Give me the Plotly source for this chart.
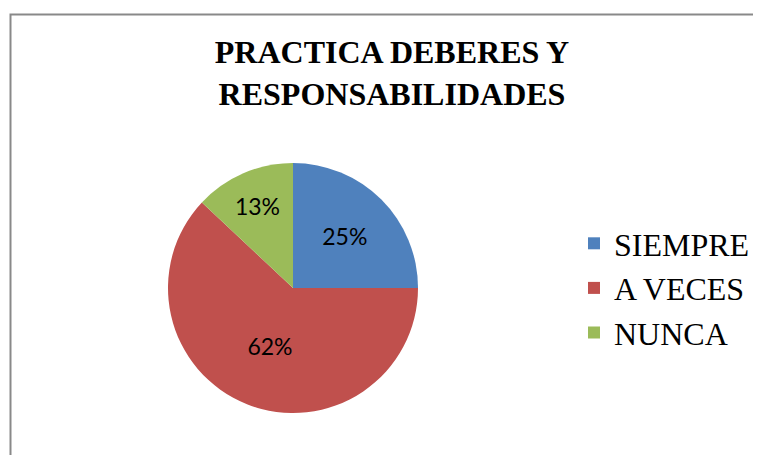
import plotly.graph_objects as go

categories = ["SIEMPRE", "A VECES", "NUNCA"]
values = [25, 62, 13]
colors = ["#4F81BD", "#C0504D", "#9BBB59"]
title_text = "PRACTICA DEBERES Y<br>RESPONSABILIDADES"

W, H = 761, 455
OFF = 8  # page body margin in the browser


def px_x(x):
    return (x - OFF) / W


def px_y(y):
    return 1 - (y - OFF) / H


fig = go.Figure(
    go.Pie(
        labels=categories,
        values=values,
        sort=False,
        direction="clockwise",
        rotation=0,
        marker=dict(colors=colors, line=dict(width=0)),
        textinfo="percent",
        texttemplate="%{percent:.0%}",
        textposition="inside",
        insidetextorientation="horizontal",
        textfont=dict(family="Lato", size=23, color="black"),
        domain=dict(x=[px_x(168), px_x(418)], y=[px_y(413), px_y(163)]),
        hoverinfo="label+percent",
    )
)

fig.update_layout(
    width=W,
    height=H,
    margin=dict(l=0, r=0, t=0, b=0),
    paper_bgcolor="white",
    plot_bgcolor="white",
    title=dict(
        text="<b>" + title_text + "</b>",
        x=px_x(392),
        xanchor="center",
        y=px_y(63),
        yanchor="top",
        yref="paper",
        font=dict(family="Liberation Serif", size=32, color="black"),
    ),
    legend=dict(
        x=px_x(574),
        xanchor="left",
        y=px_y(288),
        yanchor="middle",
        font=dict(family="Liberation Serif", size=32, color="black"),
        bgcolor="rgba(0,0,0,0)",
    ),
    shapes=[
        dict(
            type="rect",
            xref="paper",
            yref="paper",
            x0=px_x(10.5),
            x1=1.05,
            y0=-0.05,
            y1=px_y(14.5),
            line=dict(color="#898989", width=2),
            fillcolor="rgba(0,0,0,0)",
            layer="below",
        )
    ],
)

fig.write_html("out.html")
